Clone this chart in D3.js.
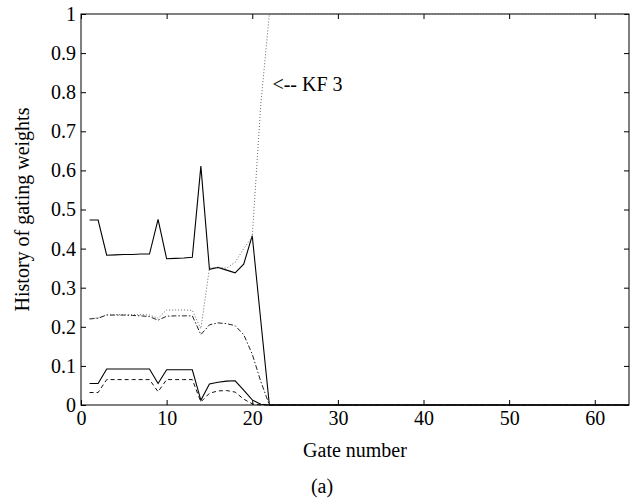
<!DOCTYPE html>
<html>
<head>
<meta charset="utf-8">
<script src="https://cdn.jsdelivr.net/npm/d3@7"></script>
<style>
  body { margin: 0; background: #fff; }
  svg text { font-family: "Liberation Serif", "DejaVu Serif", serif; fill: #000; }
</style>
</head>
<body>
<div id="chart"></div>
<script>
// gate numbers; the last point (64) carries the flat tail after gate 22
var gates = [1, 2, 3, 4, 5, 6, 7, 8, 9, 10, 11, 12, 13, 14, 15, 16, 17, 18, 19, 20, 21, 22, 64];

var kf1 = [0.473, 0.473, 0.383, 0.384, 0.385, 0.385, 0.386, 0.386, 0.475, 0.374, 0.375, 0.376, 0.378, 0.611, 0.347, 0.352, 0.345, 0.338, 0.36, 0.433, 0.215, 0, 0];
var kf2 = [0.22, 0.222, 0.23, 0.23, 0.23, 0.229, 0.228, 0.226, 0.217, 0.227, 0.228, 0.228, 0.228, 0.18, 0.205, 0.21, 0.208, 0.203, 0.18, 0.13, 0.06, 0, 0];
var kf3 = [0.221, 0.223, 0.231, 0.231, 0.231, 0.231, 0.231, 0.23, 0.222, 0.243, 0.243, 0.243, 0.242, 0.195, 0.35, 0.352, 0.35, 0.365, 0.4, 0.43, 0.77, 1, 1];
var kf4 = [0.055, 0.055, 0.092, 0.092, 0.092, 0.092, 0.092, 0.092, 0.055, 0.09, 0.09, 0.09, 0.09, 0.012, 0.054, 0.058, 0.061, 0.062, 0.038, 0.013, 0.002, 0, 0];
var kf5 = [0.032, 0.032, 0.065, 0.065, 0.065, 0.065, 0.065, 0.065, 0.034, 0.065, 0.065, 0.065, 0.065, 0.008, 0.03, 0.036, 0.037, 0.033, 0.015, 0.003, 0, 0, 0];

var xTicks = [0, 10, 20, 30, 40, 50, 60];
var yTicks = [0, 0.1, 0.2, 0.3, 0.4, 0.5, 0.6, 0.7, 0.8, 0.9, 1];

var series = [
  {values: kf1, dash: null, color: "#000", width: 1.1},
  {values: kf2, dash: "5,2,1.5,2", color: "#222", width: 1},
  {values: kf3, dash: "1,2", color: "#666", width: 1},
  {values: kf4, dash: null, color: "#000", width: 1.1},
  {values: kf5, dash: "4,3", color: "#111", width: 1}
];

var margin = {top: 14, right: 4, bottom: 95, left: 81};
var width = 633 - margin.left - margin.right,
  height = 500 - margin.top - margin.bottom;

var svg = d3.select("#chart").append("svg")
  .attr("width", 633)
  .attr("height", 500)
  .append("g")
  .attr("transform", "translate(" + margin.left + "," + margin.top + ")");

var x = d3.scaleLinear().domain([0, 64]).range([0, width]);
var y = d3.scaleLinear().domain([0, 1]).range([height, 0]);

var fmt = function(d) { return d3.format("~g")(d); };

// axes with inward ticks on all four sides
svg.append("g")
  .attr("transform", "translate(0," + height + ")")
  .call(d3.axisBottom(x).tickValues(xTicks).tickSize(-5).tickPadding(6).tickFormat(fmt))
  .call(function(g) { g.select(".domain").remove(); });

svg.append("g")
  .call(d3.axisTop(x).tickValues(xTicks).tickSize(-5).tickFormat(""))
  .call(function(g) { g.select(".domain").remove(); });

svg.append("g")
  .call(d3.axisLeft(y).tickValues(yTicks).tickSize(-5).tickPadding(5).tickFormat(fmt))
  .call(function(g) { g.select(".domain").remove(); });

svg.append("g")
  .attr("transform", "translate(" + width + ",0)")
  .call(d3.axisRight(y).tickValues(yTicks).tickSize(-5).tickFormat(""))
  .call(function(g) { g.select(".domain").remove(); });

svg.selectAll(".tick text").style("font-size", "20px");
svg.selectAll(".tick line").attr("stroke", "#000");

svg.append("rect")
  .attr("x", 0).attr("y", 0)
  .attr("width", width).attr("height", height)
  .attr("fill", "none")
  .attr("stroke", "#000")
  .attr("stroke-width", 1);

var line = d3.line()
  .x(function(d, i) { return x(gates[i]); })
  .y(function(d) { return y(d); });

svg.selectAll(".series")
  .data(series)
  .enter().append("path")
  .attr("class", "series")
  .attr("d", function(s) { return line(s.values); })
  .attr("fill", "none")
  .attr("stroke", function(s) { return s.color; })
  .attr("stroke-width", function(s) { return s.width; })
  .attr("stroke-dasharray", function(s) { return s.dash; });

svg.append("text")
  .attr("x", x(22) + 3)
  .attr("y", y(0.8) - 1)
  .style("font-size", "20px")
  .text("<-- KF 3");

svg.append("text")   // x axis label
  .attr("x", width / 2)
  .attr("y", height + 52)
  .style("text-anchor", "middle")
  .style("font-size", "20px")
  .text("Gate number");

svg.append("text")
  .attr("x", 241)
  .attr("y", height + 88)
  .style("text-anchor", "middle")
  .style("font-size", "20px")
  .text("(a)");

svg.append("text")   // y axis label
  .attr("transform", "rotate(-90)")
  .attr("x", -height / 2)
  .attr("y", -52)
  .style("text-anchor", "middle")
  .style("font-size", "20px")
  .text("History of gating weights");
</script>
</body>
</html>
